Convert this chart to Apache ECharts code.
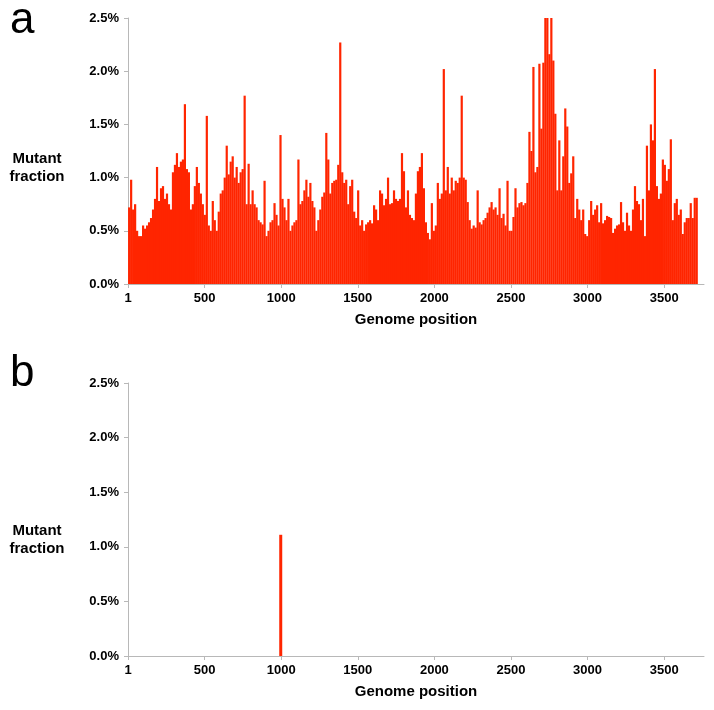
<!DOCTYPE html>
<html>
<head>
<meta charset="utf-8">
<script src="https://cdn.jsdelivr.net/npm/echarts@6/dist/echarts.min.js"></script>
<style>
  html, body { margin: 0; padding: 0; background: #fff; }
  #chart { width: 714px; height: 710px; }
</style>
</head>
<body>
<div id="chart"></div>
<script>
// genome is read in bins of 13 positions, first bin starts at position 1
const binWidth = 13;
const firstPosition = 1;

// panel a: mutant fraction (%) per bin
const fractionA = [
  0.72, 0.98, 0.70, 0.75, 0.50, 0.45, 0.45, 0.55, 0.52, 0.55,
  0.58, 0.62, 0.70, 0.80, 1.10, 0.78, 0.90, 0.92, 0.80, 0.85,
  0.75, 0.70, 1.05, 1.12, 1.23, 1.10, 1.15, 1.17, 1.69, 1.08,
  1.05, 0.70, 0.75, 0.92, 1.10, 0.95, 0.85, 0.75, 0.65, 1.58,
  0.55, 0.50, 0.78, 0.60, 0.50, 0.68, 0.85, 0.88, 1.00, 1.30,
  1.03, 1.15, 1.20, 1.00, 1.10, 0.95, 1.05, 1.08, 1.77, 0.75,
  1.13, 0.75, 0.88, 0.75, 0.72, 0.60, 0.58, 0.56, 0.97, 0.45,
  0.50, 0.58, 0.60, 0.76, 0.65, 0.55, 1.40, 0.80, 0.72, 0.60,
  0.80, 0.50, 0.55, 0.58, 0.60, 1.17, 0.75, 0.78, 0.88, 0.98,
  0.82, 0.95, 0.78, 0.72, 0.50, 0.60, 0.70, 0.82, 0.86, 1.42,
  1.17, 0.85, 0.95, 0.97, 0.98, 1.12, 2.27, 1.05, 0.95, 0.98,
  0.75, 0.92, 0.98, 0.68, 0.62, 0.88, 0.55, 0.60, 0.50, 0.56,
  0.58, 0.60, 0.57, 0.74, 0.70, 0.60, 0.88, 0.85, 0.74, 0.80,
  1.00, 0.75, 0.76, 0.88, 0.80, 0.78, 0.80, 1.23, 1.06, 0.72,
  0.88, 0.65, 0.62, 0.60, 0.85, 1.06, 1.10, 1.23, 0.90, 0.58,
  0.48, 0.42, 0.76, 0.50, 0.55, 0.95, 0.80, 0.85, 2.02, 0.88,
  1.10, 0.85, 1.00, 0.88, 0.97, 0.95, 1.00, 1.77, 1.00, 0.98,
  0.77, 0.60, 0.52, 0.55, 0.53, 0.88, 0.58, 0.56, 0.60, 0.62,
  0.67, 0.72, 0.77, 0.70, 0.72, 0.65, 0.90, 0.62, 0.66, 0.55,
  0.97, 0.50, 0.50, 0.63, 0.90, 0.72, 0.76, 0.77, 0.74, 0.76,
  0.95, 1.43, 1.25, 2.04, 1.05, 1.10, 2.07, 1.46, 2.08, 2.70,
  2.70, 2.16, 2.70, 2.10, 1.60, 0.88, 1.35, 0.88, 1.20, 1.65,
  1.48, 0.95, 1.04, 1.20, 0.62, 0.80, 0.70, 0.60, 0.70, 0.47,
  0.45, 0.60, 0.78, 0.65, 0.70, 0.74, 0.58, 0.76, 0.57, 0.60,
  0.64, 0.63, 0.62, 0.48, 0.52, 0.55, 0.56, 0.77, 0.58, 0.50,
  0.67, 0.55, 0.50, 0.70, 0.92, 0.78, 0.75, 0.60, 0.80, 0.45,
  1.30, 0.88, 1.50, 1.35, 2.02, 0.92, 0.80, 0.85, 1.17, 1.12,
  0.97, 1.08, 1.36, 0.60, 0.76, 0.80, 0.65, 0.70, 0.47, 0.58,
  0.62, 0.62, 0.76, 0.62, 0.81, 0.81
];

// panel b: only one mutant site
const positionsB = [997];
const fractionB = [1.11];

const yTicks = [0, 0.5, 1.0, 1.5, 2.0, 2.5];
const xTickStep = 500;
const genomeMax = 3760;

const barColor = '#ff2500';
const labelFont = 'Liberation Sans, Arial, sans-serif';

const seriesA = fractionA.map((v, i) => [firstPosition + binWidth * i + binWidth / 2, v]);
const seriesB = positionsB.map((p, i) => [p, fractionB[i]]);

const chart = echarts.init(document.getElementById('chart'), null, { renderer: 'canvas' });

function xAxisFor(gridIndex) {
  return {
    type: 'value',
    gridIndex: gridIndex,
    min: 0,
    max: genomeMax,
    interval: xTickStep,
    name: 'Genome position',
    nameLocation: 'middle',
    nameGap: 28,
    nameTextStyle: { fontFamily: labelFont, fontWeight: 'bold', fontSize: 15, color: '#000' },
    axisLine: { show: true, lineStyle: { color: '#b8b8b8', width: 1 } },
    axisTick: { show: true, length: 4, lineStyle: { color: '#b8b8b8' } },
    axisLabel: {
      showMaxLabel: false,
      margin: 8,
      fontFamily: labelFont, fontWeight: 'bold', fontSize: 13, color: '#000',
      formatter: v => (v === 0 ? '1' : (v % xTickStep === 0 ? String(v) : ''))
    },
    splitLine: { show: false }
  };
}

function yAxisFor(gridIndex) {
  return {
    type: 'value',
    gridIndex: gridIndex,
    min: yTicks[0],
    max: yTicks[yTicks.length - 1],
    interval: 0.5,
    axisLine: { show: true, lineStyle: { color: '#b8b8b8', width: 1 } },
    axisTick: { show: true, length: 4, lineStyle: { color: '#b8b8b8' } },
    axisLabel: {
      margin: 9,
      fontFamily: labelFont, fontWeight: 'bold', fontSize: 13, color: '#000',
      formatter: v => v.toFixed(1) + '%'
    },
    splitLine: { show: false }
  };
}

const panelLetter = '44px Liberation Sans, Arial, sans-serif';
const sideLabel = 'bold 15px Liberation Sans, Arial, sans-serif';

const option = {
  backgroundColor: '#fff',
  animation: false,
  grid: [
    { left: 128, right: 10, top: 18, height: 266 },
    { left: 128, right: 10, top: 383, height: 273 }
  ],
  xAxis: [xAxisFor(0), xAxisFor(1)],
  yAxis: [yAxisFor(0), yAxisFor(1)],
  graphic: [
    { type: 'text', x: 10, y: -1, style: { text: 'a', font: panelLetter, fill: '#000' } },
    { type: 'text', x: 10, y: 352, style: { text: 'b', font: panelLetter, fill: '#000' } },
    { type: 'text', x: 37, y: 168, style: { text: 'Mutant\nfraction', font: sideLabel, fill: '#000', align: 'center', verticalAlign: 'middle', lineHeight: 18 } },
    { type: 'text', x: 37, y: 540, style: { text: 'Mutant\nfraction', font: sideLabel, fill: '#000', align: 'center', verticalAlign: 'middle', lineHeight: 18 } }
  ],
  series: [
    {
      type: 'bar',
      xAxisIndex: 0,
      yAxisIndex: 0,
      data: seriesA,
      barWidth: 2.2,
      clip: true,
      itemStyle: { color: barColor }
    },
    {
      type: 'bar',
      xAxisIndex: 1,
      yAxisIndex: 1,
      data: seriesB,
      barWidth: 3,
      clip: true,
      itemStyle: { color: barColor }
    }
  ]
};

chart.setOption(option);
</script>
</body>
</html>
